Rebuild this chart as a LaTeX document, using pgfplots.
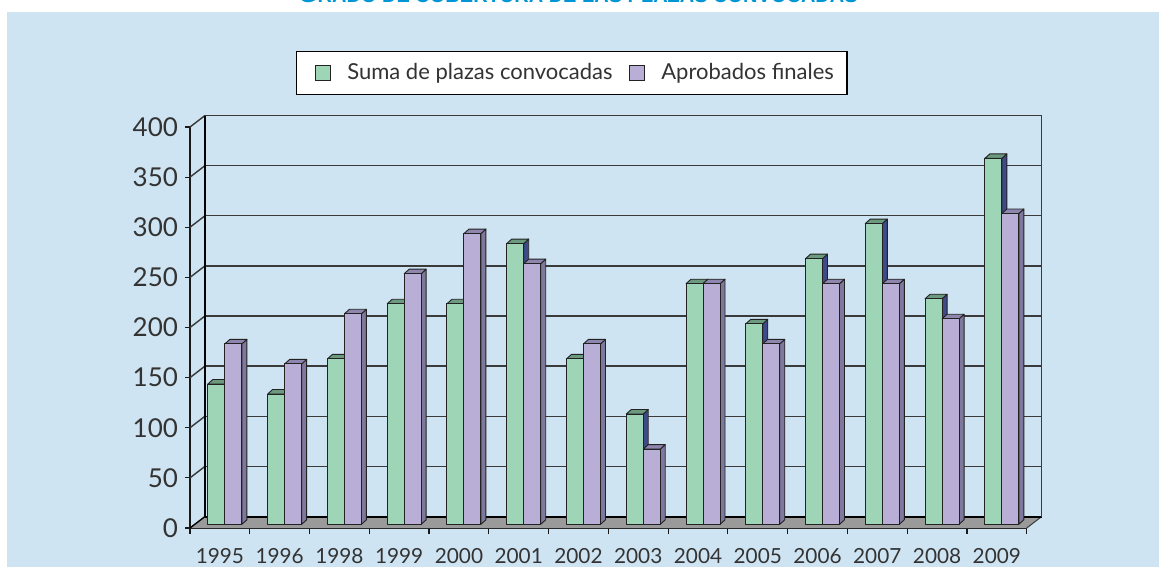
\documentclass[border=0pt]{standalone}
\usepackage{pgfplots}
\pgfplotsset{compat=1.18}
\usepackage{pgfplotstable}
\usepackage{fontspec}
\setmainfont{Lato}
\newfontfamily\titlefont{Liberation Sans}
\definecolor{panel}{HTML}{CFE4F2}
\definecolor{gfront}{HTML}{9ED5B7}
\definecolor{gtop}{HTML}{6B9A7F}
\definecolor{gside}{HTML}{3E4A8A}
\definecolor{pfront}{HTML}{B9AED6}
\definecolor{ptop}{HTML}{8E86AE}
\definecolor{pside}{HTML}{7E789C}
\definecolor{edge}{HTML}{222222}
\definecolor{txt}{HTML}{333333}
\definecolor{floorc}{HTML}{9A9A9A}
\definecolor{gridc}{HTML}{3A3A3A}
\definecolor{titleblue}{HTML}{0096D6}

\pgfplotstableread{
i green purple
0 140 180
1 130 160
2 165 210
3 220 250
4 220 290
5 280 260
6 165 180
7 110 75
8 240 240
9 200 180
10 265 240
11 300 240
12 225 205
13 365 310
}\datatable

% 3D bar marks: origin at the data point on the front plane, height from point meta
\pgfdeclareplotmark{bargreen}{%
  \pgfmathsetmacro\barh{\pgfplotspointmeta*0.50125}%
  \path[fill=gside, draw=edge, line width=0.45pt, line join=round]
    (2.5pt,1.85pt) -- (5pt,4.1pt) -- (5pt,4.1pt-\barh pt) -- (2.5pt,1.85pt-\barh pt) -- cycle;
  \path[fill=gtop, draw=edge, line width=0.45pt, line join=round]
    (-6pt,1.85pt) -- (-3.5pt,4.1pt) -- (5pt,4.1pt) -- (2.5pt,1.85pt) -- cycle;
  \path[fill=gfront, draw=edge, line width=0.45pt, line join=round]
    (-6pt,1.85pt-\barh pt) rectangle (2.5pt,1.85pt);
}
\pgfdeclareplotmark{barpurple}{%
  \pgfmathsetmacro\barh{\pgfplotspointmeta*0.50125}%
  \path[fill=pside, draw=edge, line width=0.45pt, line join=round]
    (11pt,1.85pt) -- (13.5pt,4.1pt) -- (13.5pt,4.1pt-\barh pt) -- (11pt,1.85pt-\barh pt) -- cycle;
  \path[fill=ptop, draw=edge, line width=0.45pt, line join=round]
    (2.5pt,1.85pt) -- (5pt,4.1pt) -- (13.5pt,4.1pt) -- (11pt,1.85pt) -- cycle;
  \path[fill=pfront, draw=edge, line width=0.45pt, line join=round]
    (2.5pt,1.85pt-\barh pt) rectangle (11pt,1.85pt);
}

\begin{document}
\begin{tikzpicture}
\useasboundingbox (0,0) rectangle (579.5pt,283.5pt);
\fill[white] (0,0) rectangle (579.5pt,283.5pt);
\fill[panel] (3.5pt,0) rectangle (579.5pt,277.5pt);
\node[anchor=base, text=titleblue, font=\titlefont\bfseries\fontsize{10}{12}\selectfont] at (289pt,282pt)
  {{\fontsize{12.5}{12}\selectfont G}RADO DE COBERTURA DE LAS PLAZAS CONVOCADAS};

\begin{axis}[
  at={(95pt,19.5pt)}, anchor=south west,
  width=418.35pt, height=200.5pt, scale only axis,
  xmin=-0.5, xmax=13.5, ymin=0, ymax=400,
  clip=false,
  axis lines=left,
  axis line style={-, draw=black!90, line width=0.8pt},
  xtick={0,...,13},
  xticklabels={1995,1996,1998,1999,2000,2001,2002,2003,2004,2005,2006,2007,2008,2009},
  minor xtick={-0.5,0.5,...,13.5},
  major x tick style={draw=none},
  ytick={0,50,...,400},
  tick align=outside,
  major tick length=2.5pt,
  minor tick length=3pt,
  tick style={black!90, line width=0.6pt},
  /pgf/number format/assume math mode=true,
  yticklabel style={font=\fontsize{13}{13}\selectfont, text=txt},
  xticklabel style={font=\fontsize{10.4}{12}\selectfont, text=txt, yshift=-4.4pt},
  legend columns=2,
  legend style={at={(0.456,1.134)}, anchor=center, draw=black, line width=0.6pt, fill=white,
    font=\fontsize{11}{13}\selectfont, text=txt, inner xsep=4.5pt, inner ysep=4pt,
    /tikz/every even column/.append style={column sep=1.3pt}},
]
% floor
\fill[floorc] (axis cs:-0.5,0) -- (axis cs:13.5,0) -- ([shift={(7.5pt,5.75pt)}]axis cs:13.5,0)
  -- ([shift={(7.5pt,5.75pt)}]axis cs:-0.5,0) -- cycle;
\draw[gridc, line width=0.5pt] (axis cs:13.5,0) -- ([shift={(7.5pt,5.75pt)}]axis cs:13.5,0);
% back wall and left wall lines
\pgfplotsinvokeforeach{50,100,...,400}{
  \draw[gridc, line width=0.72pt] ([shift={(7.5pt,5.75pt)}]axis cs:-0.5,#1) -- ([shift={(7.5pt,5.75pt)}]axis cs:13.5,#1);
  \draw[gridc, line width=0.72pt] (axis cs:-0.5,#1) -- ([shift={(7.5pt,5.75pt)}]axis cs:-0.5,#1);
}
\draw[black, line width=1pt] ([shift={(7.5pt,5.75pt)}]axis cs:-0.5,0) -- ([shift={(7.5pt,5.75pt)}]axis cs:13.5,0);
\draw[black, line width=0.7pt] (axis cs:-0.5,0) -- ([shift={(7.5pt,5.75pt)}]axis cs:-0.5,0);
\draw[black, line width=0.9pt] ([shift={(7.5pt,5.75pt)}]axis cs:-0.5,0) -- ([shift={(7.5pt,5.75pt)}]axis cs:-0.5,400);
\draw[gridc, line width=0.6pt] ([shift={(7.5pt,5.75pt)}]axis cs:13.5,0) -- ([shift={(7.5pt,5.75pt)}]axis cs:13.5,400);

\addplot[scatter, only marks, mark=bargreen, point meta=explicit symbolic,
  scatter/@pre marker code/.code={}, scatter/@post marker code/.code={},
  legend image code/.code={\path (-5pt,0) (13.5pt,0);
    \draw[fill=gfront, draw=edge, line width=0.5pt] (0pt,-3.75pt) rectangle (7.5pt,3.75pt);}]
  table[x=i, y=green, meta=green] {\datatable};
\addlegendentry{Suma de plazas convocadas}
\addplot[scatter, only marks, mark=barpurple, point meta=explicit symbolic,
  scatter/@pre marker code/.code={}, scatter/@post marker code/.code={},
  legend image code/.code={\path (-5pt,0) (13.5pt,0);
    \draw[fill=pfront, draw=edge, line width=0.5pt] (0pt,-3.75pt) rectangle (7.5pt,3.75pt);}]
  table[x=i, y=purple, meta=purple] {\datatable};
\addlegendentry{Aprobados finales}
\end{axis}
\end{tikzpicture}
\end{document}
